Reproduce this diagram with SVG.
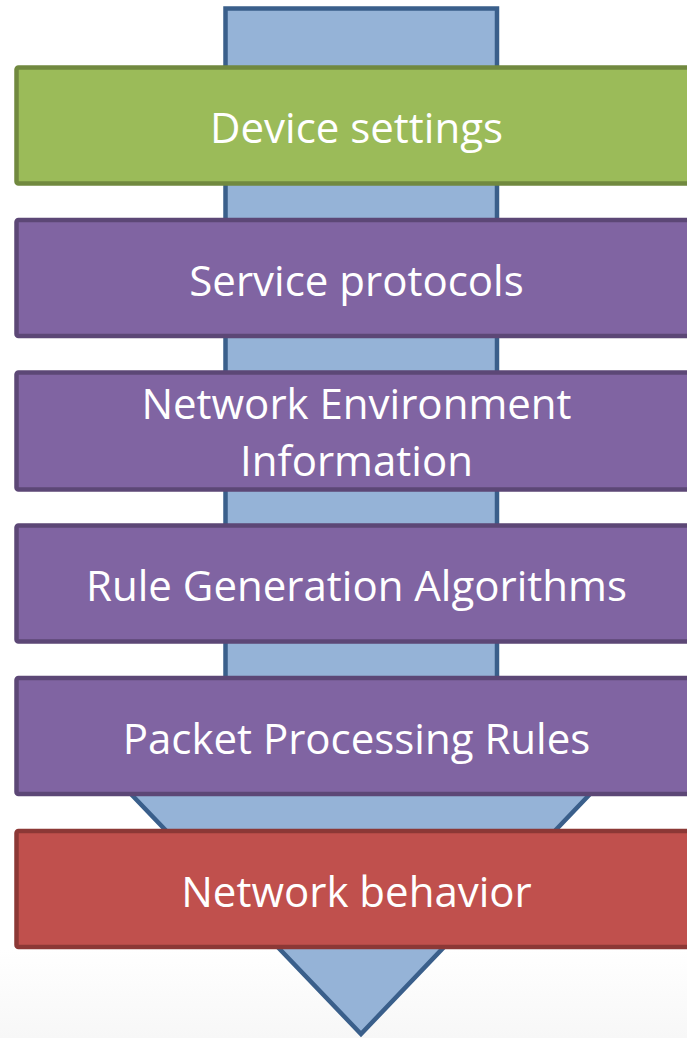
<svg xmlns="http://www.w3.org/2000/svg" width="687" height="1038" viewBox="0 0 687 1038">
  <defs>
    <linearGradient id="bg" x1="0" y1="0" x2="0" y2="1">
      <stop offset="0" stop-color="#ffffff"/>
      <stop offset="1" stop-color="#f7f7f7"/>
    </linearGradient>
    <style>
      .box { stroke-width: 4.5; }
      .green { fill: #9BBB59; stroke: #71893F; }
      .purple { fill: #8064A2; stroke: #5C4776; }
      .red { fill: #C0504D; stroke: #8C3836; }
      .arrow { fill: #95B3D7; stroke: #3A5F8B; stroke-width: 4.5; stroke-linejoin: miter; }
      .lbl { fill: #ffffff; font-family: "Open Sans", "Noto Sans", sans-serif; font-size: 42px; text-anchor: middle; }
    </style>
  </defs>
  <rect x="0" y="0" width="687" height="1038" fill="#ffffff"/>
  <rect x="0" y="950" width="687" height="88" fill="url(#bg)"/>
  <g id="arrow">
    <path class="arrow" d="M225.5,8.5 H497 V793 H591 L361,1034 L130,793 H225.5 Z"/>
  </g>
  <g id="device-settings">
    <rect class="box green" x="16.5" y="67.5" width="690" height="116" rx="2"/>
    <text class="lbl" x="356.5" y="142.5">Device settings</text>
  </g>
  <g id="service-protocols">
    <rect class="box purple" x="16.5" y="220" width="690" height="116" rx="2"/>
    <text class="lbl" x="356.5" y="295.5">Service protocols</text>
  </g>
  <g id="network-environment">
    <rect class="box purple" x="16.5" y="372.5" width="690" height="117" rx="2"/>
    <text class="lbl" x="356.5" y="419">Network Environment</text>
    <text class="lbl" x="356.5" y="475.5">Information</text>
  </g>
  <g id="rule-generation">
    <rect class="box purple" x="16.5" y="525.5" width="690" height="116" rx="2"/>
    <text class="lbl" x="356.5" y="600.5">Rule Generation Algorithms</text>
  </g>
  <g id="packet-processing">
    <rect class="box purple" x="16.5" y="678" width="690" height="116" rx="2"/>
    <text class="lbl" x="356.5" y="753.5">Packet Processing Rules</text>
  </g>
  <g id="network-behavior">
    <rect class="box red" x="16.5" y="831" width="690" height="116" rx="2"/>
    <text class="lbl" x="356.5" y="906.5">Network behavior</text>
  </g>
  <g id="connectors"></g>
</svg>
